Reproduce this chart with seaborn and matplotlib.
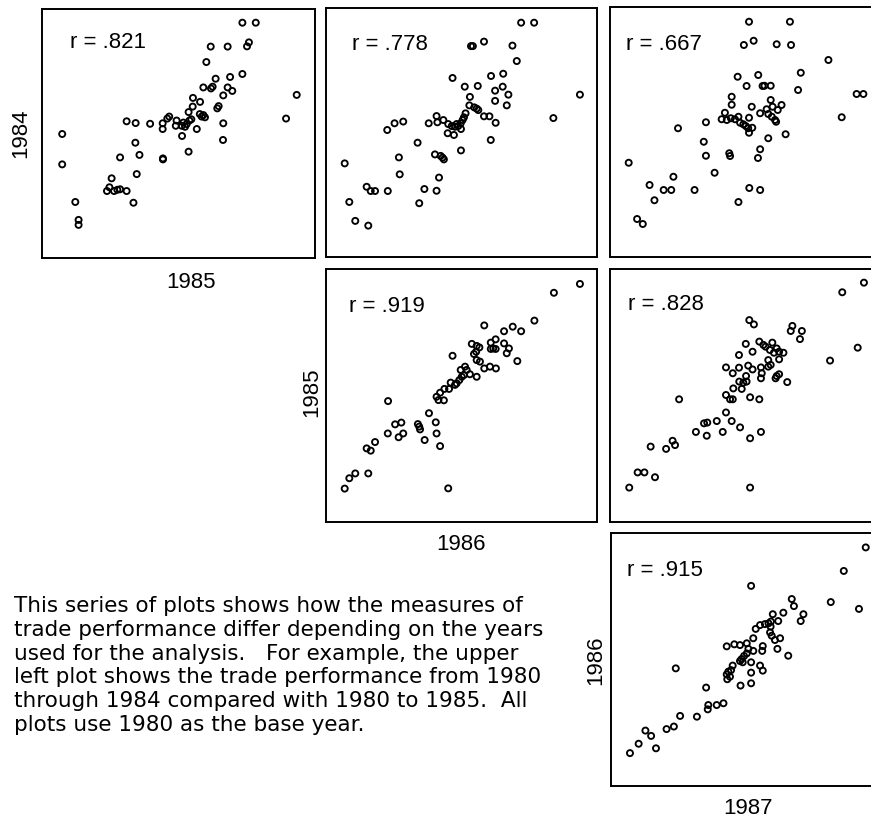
import matplotlib
matplotlib.use("Agg")
import matplotlib.pyplot as plt
import seaborn as sns

# Trade performance indices (base year 1980) for each pair of end years.
# Values are on a common 0-100 index scale.
x_1985_vs_1984 = [73.4, 78.3, 61.8, 68.0, 75.8, 75.1, 60.2, 73.4, 68.9, 63.6,
                  59.1, 62.5, 61.9, 68.0, 69.7, 66.4, 55.3, 57.9, 55.2, 64.7,
                  64.2, 53.7, 57.8, 59.1, 58.5, 59.7, 93.3, 89.4, 46.6, 45.9,
                  49.3, 49.0, 31.0, 34.3, 39.6, 44.2, 44.2, 51.8, 51.2, 52.4,
                  53.0, 54.0, 54.7, 56.7, 66.4, 51.3, 66.3, 7.4, 34.2, 53.7,
                  44.3, 44.3, 28.6, 35.7, 7.4, 34.7, 25.5, 23.8, 24.7, 26.4,
                  27.6, 28.6, 31.0, 33.5, 12.2, 13.4, 13.4]
y_1985_vs_1984 = [94.5, 94.5, 84.9, 84.9, 86.6, 85.0, 78.7, 73.9, 72.7, 72.0,
                  68.5, 68.8, 68.1, 68.5, 67.1, 65.3, 64.3, 62.7, 60.8, 61.0,
                  60.1, 58.6, 57.8, 57.4, 56.8, 56.5, 65.5, 56.0, 56.8, 56.0,
                  55.2, 53.1, 54.9, 54.2, 53.9, 54.1, 51.8, 54.4, 53.1, 52.7,
                  53.8, 55.2, 55.7, 51.8, 54.1, 49.0, 47.4, 49.8, 46.3, 42.7,
                  40.0, 39.6, 40.4, 41.4, 37.6, 33.7, 32.0, 26.9, 28.4, 26.9,
                  27.4, 27.6, 26.9, 22.2, 22.5, 15.3, 13.3]

x_1986_vs_1984 = [72.0, 76.8, 53.5, 54.2, 58.3, 68.8, 70.4, 46.7, 60.9, 65.4,
                  51.2, 56.0, 65.2, 62.4, 67.3, 53.1, 62.4, 66.7, 93.7, 83.9,
                  52.9, 54.7, 55.6, 56.2, 51.5, 50.9, 50.4, 49.7, 58.3, 60.3,
                  62.6, 40.8, 41.1, 37.9, 43.3, 45.1, 46.4, 47.6, 48.2, 48.8,
                  44.9, 47.2, 49.8, 22.6, 25.3, 28.5, 33.8, 60.8, 49.8, 40.2,
                  42.3, 43.5, 43.0, 26.9, 6.9, 27.2, 41.7, 15.0, 16.5, 18.1,
                  22.8, 36.3, 40.8, 8.6, 34.4, 10.8, 15.6]
y_1986_vs_1984 = [94.1, 94.1, 84.7, 84.7, 86.5, 84.9, 78.7, 71.9, 72.7, 73.6,
                  68.4, 68.7, 68.4, 66.8, 65.2, 64.3, 62.7, 60.9, 65.2, 55.8,
                  60.9, 60.1, 59.6, 59.0, 57.7, 56.1, 55.0, 53.7, 56.5, 56.5,
                  53.9, 56.6, 54.1, 53.7, 55.0, 53.4, 52.6, 52.3, 53.4, 52.6,
                  49.7, 49.0, 51.4, 51.0, 53.7, 54.4, 45.9, 47.0, 42.8, 41.2,
                  40.6, 39.2, 39.9, 40.0, 37.6, 33.2, 31.9, 28.2, 26.5, 26.5,
                  26.5, 27.3, 26.6, 22.1, 21.6, 14.5, 12.6]

x_1987_vs_1984 = [51.3, 66.4, 49.4, 53.0, 61.5, 66.8, 80.6, 47.1, 54.7, 70.4,
                  50.4, 56.3, 57.0, 59.3, 69.4, 44.9, 91.0, 93.5, 44.9, 52.3,
                  59.3, 57.8, 60.0, 61.9, 63.3, 55.4, 58.4, 59.7, 60.9, 61.3,
                  42.4, 41.2, 43.1, 44.6, 46.1, 47.4, 48.0, 49.2, 50.1, 51.0,
                  51.3, 52.5, 51.3, 85.5, 35.4, 25.1, 58.4, 64.8, 34.6, 55.4,
                  44.0, 44.3, 35.4, 54.6, 6.9, 38.6, 23.4, 14.6, 19.8, 22.6,
                  31.2, 51.4, 55.4, 16.4, 47.4, 10.0, 12.1]
y_1987_vs_1984 = [94.1, 94.1, 84.8, 86.5, 85.1, 84.8, 78.8, 72.1, 72.8, 73.7,
                  68.4, 68.4, 68.5, 68.5, 66.8, 64.1, 65.2, 65.2, 60.9, 60.1,
                  62.8, 59.1, 60.1, 58.8, 60.8, 57.5, 57.2, 56.1, 54.8, 54.1,
                  57.7, 55.1, 54.8, 55.5, 55.1, 56.1, 53.7, 53.1, 52.4, 51.5,
                  55.7, 51.7, 49.7, 55.9, 53.9, 51.5, 47.5, 49.1, 46.1, 43.1,
                  41.5, 40.4, 40.5, 39.6, 37.7, 33.7, 32.1, 28.8, 26.8, 26.8,
                  26.8, 27.6, 26.8, 22.7, 22.0, 15.2, 13.2]

x_1986_vs_1985 = [93.7, 84.1, 76.9, 58.4, 68.9, 65.7, 72.0, 53.8, 55.6, 56.6,
                  55.4, 54.6, 60.8, 62.6, 61.7, 60.8, 62.6, 65.7, 67.5, 66.7,
                  46.7, 55.6, 56.8, 70.6, 58.4, 60.5, 62.7, 49.7, 51.3, 51.9,
                  50.9, 50.1, 49.2, 48.2, 46.0, 47.6, 53.1, 55.6, 43.7, 45.4,
                  42.1, 40.8, 41.5, 43.5, 22.9, 38.0, 25.5, 27.8, 33.9, 34.4,
                  34.7, 40.5, 22.8, 28.5, 26.8, 40.8, 36.4, 42.1, 18.1, 15.0,
                  16.5, 15.6, 10.8, 8.6, 6.9, 45.1]
y_1986_vs_1985 = [94.1, 90.6, 79.6, 77.7, 77.2, 75.4, 75.4, 70.4, 69.6, 69.0,
                  67.3, 66.4, 70.9, 72.2, 68.6, 68.4, 68.4, 70.6, 68.6, 66.7,
                  65.7, 64.0, 63.4, 63.6, 60.7, 61.4, 60.7, 60.1, 61.4, 60.1,
                  58.1, 57.4, 56.1, 54.8, 55.1, 54.2, 58.4, 57.4, 52.6, 52.6,
                  51.1, 49.5, 48.2, 48.1, 47.8, 43.0, 38.6, 39.3, 38.7, 37.7,
                  36.6, 39.4, 35.0, 35.0, 33.5, 35.0, 32.4, 30.0, 31.6, 29.1,
                  28.2, 19.2, 19.2, 17.3, 13.2, 13.3]

x_1987_vs_1985 = [93.7, 85.7, 51.4, 53.1, 67.3, 66.7, 70.8, 70.1, 91.4, 81.2,
                  50.1, 55.1, 56.6, 57.4, 59.9, 61.5, 59.0, 60.5, 62.4, 64.0,
                  62.4, 47.6, 52.6, 58.4, 59.3, 58.4, 42.8, 45.3, 47.6, 51.0,
                  52.6, 55.7, 56.0, 55.7, 50.2, 61.5, 62.4, 61.1, 65.4, 47.7,
                  49.2, 50.4, 45.5, 48.6, 42.8, 44.3, 45.3, 51.7, 55.1, 25.5,
                  42.8, 44.9, 39.4, 34.7, 35.9, 48.0, 31.7, 35.7, 41.6, 55.7,
                  51.7, 23.1, 24.0, 20.7, 15.0, 10.2, 12.7, 16.6, 7.1, 51.7]
y_1987_vs_1985 = [94.6, 90.8, 79.8, 78.1, 77.5, 75.5, 75.5, 72.3, 68.9, 63.8,
                  70.4, 71.3, 70.0, 69.3, 70.9, 68.6, 68.0, 66.9, 67.3, 66.9,
                  64.3, 66.0, 67.3, 64.0, 62.1, 61.4, 61.1, 58.8, 61.0, 61.8,
                  60.3, 61.1, 58.8, 56.8, 57.7, 57.7, 58.4, 56.8, 55.3, 55.5,
                  55.1, 55.5, 52.8, 52.6, 50.2, 48.5, 48.5, 49.3, 48.5, 48.5,
                  43.3, 39.9, 39.9, 39.0, 39.3, 37.4, 35.6, 34.1, 35.6, 35.6,
                  33.1, 32.1, 30.4, 28.9, 29.8, 19.6, 19.6, 17.7, 13.6, 13.6]

x_1987_vs_1986 = [94.0, 85.9, 51.7, 66.7, 67.5, 81.1, 91.5, 63.6, 59.7, 71.0,
                  70.0, 61.7, 53.4, 55.0, 56.8, 58.1, 59.0, 58.9, 58.7, 59.3,
                  60.5, 62.4, 61.4, 65.4, 52.5, 42.7, 45.5, 47.6, 50.1, 50.7,
                  56.0, 55.8, 52.5, 50.1, 49.1, 48.2, 47.6, 48.6, 51.7, 55.0,
                  56.0, 51.7, 44.9, 44.3, 43.3, 42.7, 43.9, 42.9, 23.9, 47.8,
                  51.7, 35.1, 35.9, 35.7, 39.0, 41.5, 25.5, 31.7, 20.5, 23.2,
                  12.7, 14.8, 10.2, 7.0, 16.6]
y_1987_vs_1986 = [94.3, 85.0, 79.1, 73.9, 71.1, 72.7, 70.0, 68.5, 67.9, 67.9,
                  65.2, 65.2, 62.1, 63.6, 64.0, 64.3, 65.0, 63.0, 60.7, 59.4,
                  57.7, 58.4, 54.2, 51.5, 58.4, 55.2, 56.0, 55.7, 56.4, 54.2,
                  55.3, 53.4, 53.4, 52.4, 51.4, 50.2, 49.4, 48.9, 48.9, 47.6,
                  45.6, 44.8, 47.6, 45.8, 45.2, 44.1, 43.2, 42.2, 46.5, 39.7,
                  40.6, 38.9, 32.0, 30.3, 32.0, 32.7, 27.7, 27.4, 22.5, 23.5,
                  21.9, 19.8, 16.7, 13.0, 14.9]

r_labels = ["r = .821", "r = .778", "r = .667", "r = .919", "r = .828", "r = .915"]
year_labels = ["1984", "1985", "1986", "1987"]

description = [
    "This series of plots shows how the measures of",
    "trade performance differ depending on the years",
    "used for the analysis.   For example, the upper",
    "left plot shows the trade performance from 1980",
    "through 1984 compared with 1980 to 1985.  All",
    "plots use 1980 as the base year.",
]

sns.set_style("white")
plt.rcParams["font.family"] = ["Liberation Sans", "DejaVu Sans"]
plt.rcParams["text.color"] = "black"

W, H = 871, 818
fig = plt.figure(figsize=(W / 100, H / 100), dpi=100)
fig.patch.set_facecolor("white")


def rect(left, top, width, height):
    return [left / W, 1 - (top + height) / H, width / W, height / H]


def fx(px):
    return px / W


def fy(py):
    return 1 - py / H


# (x data, y data, r label, axes box in pixels, r label offset in pixels)
panels = [
    (x_1985_vs_1984, y_1985_vs_1984, r_labels[0], (42, 9, 273, 249), (28, 34)),
    (x_1986_vs_1984, y_1986_vs_1984, r_labels[1], (326, 8, 271, 249), (26, 37)),
    (x_1987_vs_1984, y_1987_vs_1984, r_labels[2], (610, 7, 271, 250), (16, 38)),
    (x_1986_vs_1985, y_1986_vs_1985, r_labels[3], (326, 269, 271, 253), (23, 37)),
    (x_1987_vs_1985, y_1987_vs_1985, r_labels[4], (610, 269, 271, 253), (18, 35)),
    (x_1987_vs_1986, y_1987_vs_1986, r_labels[5], (611, 533, 271, 253), (16, 38)),
]

for xs, ys, rlab, box, (dx, dy) in panels:
    ax = fig.add_axes(rect(*box))
    sns.scatterplot(x=xs, y=ys, ax=ax, marker="o", s=19, color="black",
                    facecolors="none", edgecolor="black", linewidth=1.35,
                    legend=False)
    ax.set_xlim(0, 100)
    ax.set_ylim(0, 100)
    ax.set_xticks([])
    ax.set_yticks([])
    ax.set_xlabel("")
    ax.set_ylabel("")
    for sp in ax.spines.values():
        sp.set_visible(True)
        sp.set_color("black")
        sp.set_linewidth(1.4)
    left, top, width, height = box
    fig.text(fx(left + dx), fy(top + dy), rlab, fontsize=16, ha="left",
             va="center", color="black")

# Year labels along the bottom and left of the diagonal panels
label_kw = dict(fontsize=16, ha="center", va="center", color="black")
fig.text(fx(191), fy(282), year_labels[1], **label_kw)
fig.text(fx(461), fy(545), year_labels[2], **label_kw)
fig.text(fx(748), fy(809), year_labels[3], **label_kw)
fig.text(fx(21), fy(133), year_labels[0], rotation=90, **label_kw)
fig.text(fx(312), fy(392), year_labels[1], rotation=90, **label_kw)
fig.text(fx(596), fy(660), year_labels[2], rotation=90, **label_kw)

# Explanatory note in the lower left, set in a wider face
for i, line in enumerate(description):
    fig.text(fx(14), fy(612 + i * 23.8), line, fontsize=15.5, ha="left",
             va="baseline", color="black", family=["DejaVu Sans"])

fig.savefig("out.png", dpi=100, facecolor="white")
